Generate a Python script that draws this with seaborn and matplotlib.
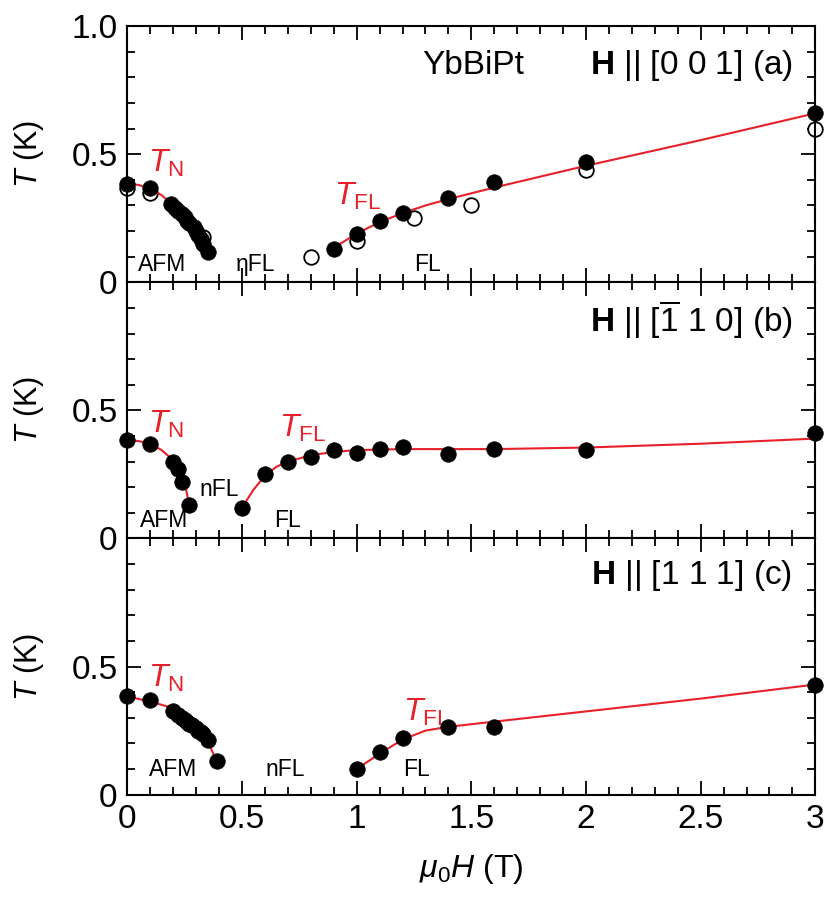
import pandas as pd
import seaborn as sns
import matplotlib.pyplot as plt
from matplotlib.ticker import MultipleLocator, FixedLocator, FixedFormatter

# ---- panel (a): H || [0 0 1] ----
a_fill_h = [0.0, 0.1, 0.19, 0.21, 0.22, 0.24, 0.25, 0.26, 0.27, 0.29, 0.30, 0.31, 0.32, 0.33, 0.35,
            0.9, 1.0, 1.1, 1.2, 1.4, 1.6, 2.0, 3.0]
a_fill_t = [0.385, 0.37, 0.305, 0.29, 0.28, 0.265, 0.255, 0.24, 0.23, 0.215, 0.20, 0.185, 0.17, 0.15, 0.12,
            0.13, 0.19, 0.24, 0.27, 0.33, 0.39, 0.47, 0.66]
a_open_h = [0.0, 0.1, 0.33, 0.8, 1.0, 1.25, 1.5, 2.0, 3.0]
a_open_t = [0.37, 0.35, 0.175, 0.10, 0.16, 0.25, 0.30, 0.44, 0.60]
a_tn_h = [0.0, 0.05, 0.1, 0.15, 0.2, 0.25, 0.3, 0.33, 0.35]
a_tn_t = [0.385, 0.38, 0.365, 0.34, 0.30, 0.255, 0.20, 0.16, 0.12]
a_tfl_h = [0.9, 1.0, 1.1, 1.2, 1.3, 1.4, 1.6, 2.0, 2.5, 3.0]
a_tfl_t = [0.135, 0.19, 0.235, 0.27, 0.30, 0.325, 0.37, 0.455, 0.555, 0.66]

# ---- panel (b): H || [-1 1 0] ----
b_fill_h = [0.0, 0.1, 0.2, 0.22, 0.24, 0.27, 0.5, 0.6, 0.7, 0.8, 0.9, 1.0, 1.1, 1.2, 1.4, 1.6, 2.0, 3.0]
b_fill_t = [0.385, 0.37, 0.30, 0.27, 0.22, 0.13, 0.12, 0.25, 0.30, 0.32, 0.344, 0.334, 0.35, 0.357,
            0.33, 0.35, 0.347, 0.41]
b_tn_h = [0.0, 0.05, 0.1, 0.15, 0.2, 0.23, 0.25, 0.27]
b_tn_t = [0.385, 0.38, 0.37, 0.345, 0.305, 0.265, 0.22, 0.13]
b_tfl_h = [0.5, 0.55, 0.6, 0.65, 0.7, 0.8, 0.9, 1.0, 1.2, 1.6, 2.0, 2.5, 3.0]
b_tfl_t = [0.12, 0.19, 0.245, 0.28, 0.30, 0.325, 0.338, 0.345, 0.349, 0.349, 0.355, 0.37, 0.39]

# ---- panel (c): H || [1 1 1] ----
c_fill_h = [0.0, 0.1, 0.20, 0.22, 0.24, 0.25, 0.26, 0.27, 0.28, 0.30, 0.31, 0.32, 0.33, 0.35, 0.39,
            1.0, 1.1, 1.2, 1.4, 1.6, 3.0]
c_fill_t = [0.385, 0.37, 0.325, 0.31, 0.30, 0.29, 0.285, 0.275, 0.27, 0.26, 0.25, 0.245, 0.235, 0.215, 0.13,
            0.10, 0.165, 0.22, 0.264, 0.264, 0.43]
c_tn_h = [0.0, 0.1, 0.175, 0.22, 0.28, 0.33, 0.36, 0.39]
c_tn_t = [0.383, 0.364, 0.344, 0.31, 0.27, 0.234, 0.19, 0.13]
c_tfl_h = [1.0, 1.1, 1.2, 1.3, 1.4, 1.6, 2.0, 2.5, 3.0]
c_tfl_t = [0.10, 0.16, 0.215, 0.25, 0.265, 0.285, 0.325, 0.375, 0.43]

x_ticks = [0, 0.5, 1, 1.5, 2, 2.5, 3]
x_ticklabels = ['0', '0.5', '1', '1.5', '2', '2.5', '3']

RED = '#e8202a'

sns.set_style('ticks')
plt.rcParams['font.family'] = ['Liberation Sans', 'DejaVu Sans']
plt.rcParams['mathtext.fontset'] = 'custom'
plt.rcParams['mathtext.rm'] = 'Liberation Sans'
plt.rcParams['mathtext.it'] = 'Liberation Sans:italic'
plt.rcParams['mathtext.bf'] = 'Liberation Sans:bold'
for k in ['text.color', 'axes.labelcolor', 'xtick.color', 'ytick.color', 'axes.edgecolor']:
    plt.rcParams[k] = 'black'

fig, axes = plt.subplots(3, 1, figsize=(8.32, 9.02), dpi=100, sharex=True)
fig.subplots_adjust(left=0.153, right=0.98, top=0.971, bottom=0.119, hspace=0)

panels = [
    (a_fill_h, a_fill_t, a_tn_h, a_tn_t, a_tfl_h, a_tfl_t),
    (b_fill_h, b_fill_t, b_tn_h, b_tn_t, b_tfl_h, b_tfl_t),
    (c_fill_h, c_fill_t, c_tn_h, c_tn_t, c_tfl_h, c_tfl_t),
]

for i, (ax, (fh, ft, tnh, tnt, flh, flt)) in enumerate(zip(axes, panels)):
    if i == 0:
        sns.scatterplot(x=a_open_h, y=a_open_t, ax=ax, s=110, facecolor='white',
                        edgecolor='black', linewidth=1.3, zorder=2, clip_on=False)
    sns.lineplot(x=tnh, y=tnt, ax=ax, color=RED, lw=1.5, sort=False, zorder=3)
    sns.lineplot(x=flh, y=flt, ax=ax, color=RED, lw=1.5, sort=False, zorder=3)
    sns.scatterplot(x=fh, y=ft, ax=ax, s=125, color='black', edgecolor='black',
                    linewidth=0.5, zorder=4, clip_on=False)
    ax.set_xlim(0, 3)
    ax.set_ylim(0, 1)
    ax.xaxis.set_major_locator(FixedLocator(x_ticks))
    ax.xaxis.set_major_formatter(FixedFormatter(x_ticklabels))
    ax.xaxis.set_minor_locator(MultipleLocator(0.1))
    yt = [0, 0.5, 1.0] if i == 0 else [0, 0.5]
    ax.yaxis.set_major_locator(FixedLocator(yt))
    ax.yaxis.set_major_formatter(FixedFormatter(['0', '0.5', '1.0'][:len(yt)]))
    ax.yaxis.set_minor_locator(MultipleLocator(0.1))
    ax.tick_params(which='both', direction='in', top=True, right=True, width=1.3,
                   labelsize=24, pad=7, colors='black')
    ax.tick_params(which='major', length=10)
    ax.tick_params(which='minor', length=6)
    for sp in ax.spines.values():
        sp.set_linewidth(1.5)
        sp.set_color('black')
    ax.set_ylabel('$T$ (K)', fontsize=22)
    ax.yaxis.set_label_coords(-0.118, 0.5)

axes[2].set_xlabel(r'$\mu_0 H$ (T)', fontsize=23, labelpad=12)

fs = 16.5
tfs = 24
# panel (a) text
ax = axes[0]
ax.text(1.51, 0.845, 'YbBiPt', fontsize=tfs, ha='center', va='center')
ax.text(2.9, 0.845, r'$\mathbf{H}$ || [0 0 1] (a)', fontsize=tfs, ha='right', va='center')
ax.text(0.09, 0.465, r'$T_{\rm N}$', fontsize=23, color=RED, va='center')
ax.text(0.9, 0.335, r'$T_{\rm FL}$', fontsize=23, color=RED, va='center')
ax.text(0.15, 0.07, 'AFM', fontsize=fs, ha='center', va='center')
ax.text(0.56, 0.07, 'ηFL', fontsize=fs, ha='center', va='center')
ax.text(1.31, 0.07, 'FL', fontsize=fs, ha='center', va='center')

# panel (b) text
ax = axes[1]
ax.text(2.9, 0.855, r'$\mathbf{H}$ || [$\overline{1}$ 1 0] (b)', fontsize=tfs, ha='right', va='center')
ax.text(0.09, 0.445, r'$T_{\rm N}$', fontsize=23, color=RED, va='center')
ax.text(0.66, 0.43, r'$T_{\rm FL}$', fontsize=23, color=RED, va='center')
ax.text(0.16, 0.07, 'AFM', fontsize=fs, ha='center', va='center')
ax.text(0.40, 0.19, 'nFL', fontsize=fs, ha='center', va='center')
ax.text(0.70, 0.07, 'FL', fontsize=fs, ha='center', va='center')

# panel (c) text
ax = axes[2]
ax.text(2.9, 0.855, r'$\mathbf{H}$ || [1 1 1] (c)', fontsize=tfs, ha='right', va='center')
ax.text(0.09, 0.455, r'$T_{\rm N}$', fontsize=23, color=RED, va='center')
ax.text(1.2, 0.32, r'$T_{\rm FL}$', fontsize=23, color=RED, va='center')
ax.text(0.2, 0.1, 'AFM', fontsize=fs, ha='center', va='center')
ax.text(0.69, 0.1, 'nFL', fontsize=fs, ha='center', va='center')
ax.text(1.26, 0.1, 'FL', fontsize=fs, ha='center', va='center')

plt.savefig('out.png', dpi=100)
plt.close()
